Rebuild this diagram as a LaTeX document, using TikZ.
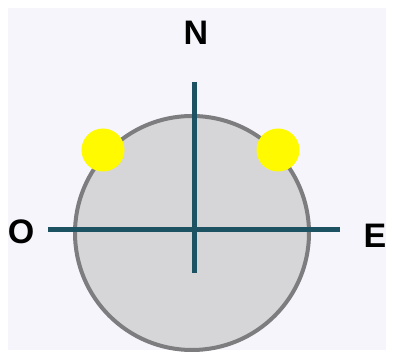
\documentclass[tikz,border=0pt]{standalone}
\usepackage{fontspec}
\setmainfont{Liberation Sans}
\definecolor{bgc}{RGB}{246,245,251}
\definecolor{discfill}{RGB}{214,214,216}
\definecolor{discedge}{RGB}{125,125,128}
\definecolor{axisc}{RGB}{28,82,98}
\definecolor{sunc}{RGB}{255,250,0}
\tikzset{
  lbl/.style={font=\fontsize{34}{34}\selectfont\bfseries, text=black, inner sep=0pt},
  axisline/.style={draw=axisc, line width=5pt},
  sun/.style={circle, fill=sunc, minimum size=43pt, inner sep=0pt}
}
\begin{document}
\begin{tikzpicture}[x=1pt,y=-1pt]
\useasboundingbox (0,0) rectangle (394,358);
\fill[white] (0,0) rectangle (394,358);
\fill[bgc] (8,8) rectangle (386,350);
\node[circle, draw=discedge, line width=4pt, fill=discfill, minimum size=234pt, inner sep=0pt] (disc) at (192,233) {};
\coordinate (w) at (48,230);
\coordinate (e) at (340,230);
\coordinate (n) at (194,82);
\coordinate (s) at (194,273);
\draw[axisline] (w) -- (e);
\draw[axisline] (n) -- (s);
\node[sun] (sunl) at (103,150) {};
\node[sun] (sunr) at (278,150) {};
\node[lbl] (N) at (196,33) {N};
\node[lbl] (O) at (21,232) {O};
\node[lbl] (E) at (375,236) {E};
\end{tikzpicture}
\end{document}
